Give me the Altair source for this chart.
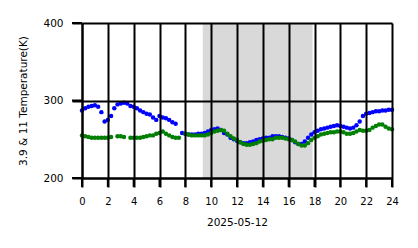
import altair as alt
import pandas as pd

HOURS = [round(i * 0.25, 2) for i in range(97)]

BLUE_39 = [
    287, 290, 292, 293, 294, 292, 285, 273, 275, 280, 290, 295,
    296, 297, 296, 293, 292, 290, 287, 285, 283, 282, 278, 275,
    280, 278, 277, 275, 272, 270, None, 258, 257, 256, 256, 256,
    257, 257, 258, 260, 262, 263, 264, 262, 258, 256, 252, 250,
    248, 246, 245, 245, 246, 247, 249, 250, 251, 252, 252, 254,
    254, 254, 253, 252, 251, 249, 246, 244, 244, 247, 252, 256,
    259, 261, 263, 264, 265, 266, 267, 268, 267, 266, 265, 264,
    265, 268, 273, 280, 283, 284, 285, 286, 286, 287, 287, 288,
    288,
]

GREEN_11 = [
    255, 254, 253, 252, 252, 252, 252, 252, 252, 253, None, 254,
    254, 253, None, 252, 252, 252, 252, 253, 254, 255, 255, 257,
    258, 260, 257, 255, 253, 252, 252, None, 257, 256, 255, 255,
    255, 255, 255, 256, 258, 260, 261, 262, 261, 257, 254, 251,
    249, 246, 244, 243, 243, 244, 245, 247, 248, 249, 250, 250,
    252, 252, 252, 251, 250, 249, 247, 244, 242, 242, 245, 249,
    252, 254, 256, 257, 258, 259, 259, 260, 260, 259, 257, 257,
    258, 260, 262, 261, 261, 262, 265, 267, 269, 269, 266, 264,
    263,
]

SERIES = ["3.9", "11"]
COLORS = ["#0000ff", "#008000"]
SHADE_START = [9.35]
SHADE_END = [17.85]
X_TICKS = list(range(0, 25, 2))
Y_TICKS = [200, 300, 400]

# blue rows first so the green points are drawn on top
df = pd.concat([
    pd.DataFrame({"hour": HOURS, "temp": BLUE_39, "band": SERIES[0]}),
    pd.DataFrame({"hour": HOURS, "temp": GREEN_11, "band": SERIES[1]}),
], ignore_index=True)
shade = pd.DataFrame({"x0": SHADE_START, "x1": SHADE_END})
xticks_df = pd.DataFrame({"hour": X_TICKS})
yticks_df = pd.DataFrame({"temp": Y_TICKS})

FONT = "DejaVu Sans"
INK = "black"
PLOT_H = 155
X_TICK_LEN = 9
Y_TICK_LEN = 10

xscale = alt.Scale(domain=[0, 24], nice=False, zero=False)
yscale = alt.Scale(domain=[200, 400], nice=False, zero=False)

xaxis = alt.Axis(
    values=X_TICKS, format="d", title="2025-05-12",
    grid=True, gridColor="black", gridWidth=2, gridOpacity=1,
    domain=True, domainColor=INK, domainWidth=2,
    ticks=True, tickColor=INK, tickWidth=2, tickSize=X_TICK_LEN,
    labelFont=FONT, labelFontSize=10, labelColor="black", labelPadding=9,
    titleFont=FONT, titleFontSize=10.5, titleFontWeight="normal",
    titleColor="black", titlePadding=11, zindex=1, labelFlush=False,
)
yaxis = alt.Axis(
    values=Y_TICKS, format="d", title="3.9 & 11 Temperature(K)",
    grid=True, gridColor="black", gridWidth=2, gridOpacity=1,
    domain=True, domainColor=INK, domainWidth=2,
    ticks=True, tickColor=INK, tickWidth=2, tickSize=Y_TICK_LEN,
    labelFont=FONT, labelFontSize=10.5, labelColor="black", labelPadding=9,
    titleFont=FONT, titleFontSize=10.5, titleFontWeight="normal",
    titleColor="black", titlePadding=14, zindex=1, labelFlush=False,
)

rect = alt.Chart(shade).mark_rect(fill="#808080", fillOpacity=0.3).encode(
    x=alt.X("x0:Q", scale=xscale, axis=xaxis),
    x2="x1:Q",
    y=alt.value(0),
    y2=alt.value(PLOT_H),
)

points = alt.Chart(df).mark_circle(size=20, opacity=1).encode(
    x=alt.X("hour:Q", scale=xscale, axis=xaxis),
    y=alt.Y("temp:Q", scale=yscale, axis=yaxis),
    color=alt.Color("band:N", scale=alt.Scale(domain=SERIES, range=COLORS), legend=None),
)

# outside tick stubs, positioned by the same scales as the axes
xtick_marks = alt.Chart(xticks_df).mark_rule(color="black", strokeWidth=2, clip=False).encode(
    x=alt.X("hour:Q", scale=xscale, axis=xaxis),
    y=alt.value(PLOT_H),
    y2=alt.value(PLOT_H + X_TICK_LEN),
)
ytick_marks = alt.Chart(yticks_df).mark_rule(color="black", strokeWidth=2, clip=False).encode(
    y=alt.Y("temp:Q", scale=yscale, axis=yaxis),
    x=alt.value(-Y_TICK_LEN),
    x2=alt.value(0),
)

chart = alt.layer(rect, points, xtick_marks, ytick_marks).properties(
    width=310, height=PLOT_H,
    padding={"left": 82, "top": 23, "right": 26, "bottom": 70},
    autosize="none",
    background="white",
).configure_view(stroke=None)

chart.save("out.html", embed_options={"renderer": "svg", "actions": False})
